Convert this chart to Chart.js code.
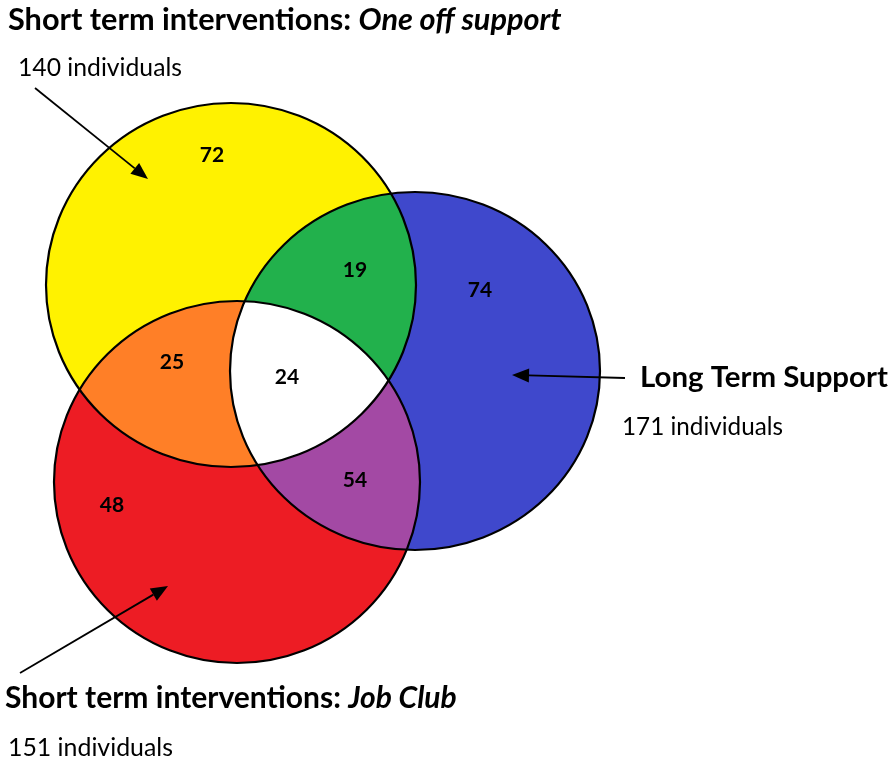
<!DOCTYPE html>
<html>
<head>
<meta charset="utf-8">
<script src="https://cdn.jsdelivr.net/npm/chart.js@4"></script>
<style>
  html, body { margin: 0; padding: 0; background: #fff; }
  #wrap { width: 892px; height: 762px; position: relative; }
</style>
</head>
<body>
<div id="wrap"><canvas id="venn"></canvas></div>
<script>
// values
const setNames = ['Short term interventions: ', 'Long Term Support', 'Short term interventions: ']
const setNamesItalic = ['One off support', '', 'Job Club']
const setTotals = [140, 171, 151]
const regionNames = ['One off only', 'One off + Long term', 'Long term only', 'One off + Job Club', 'All three', 'Long term + Job Club', 'Job Club only']
const regionCounts = [72, 19, 74, 25, 24, 54, 48]

// layout (chart units, y grows downward)
const circleX = [231, 415, 237]
const circleY = [285, 371, 482]
const circleRX = [185, 185, 183]
const circleRY = [182, 179, 181]
const circleColors = ['#FFF200', '#3F48CC', '#ED1C24']
const regionX = [212, 355, 480, 172, 287, 355, 112]
const regionY = [155, 270, 290, 362, 377, 480, 505]
const titleX = [8, 640, 5]
const titleY = [30, 387, 708]
const titleW = [554, 248, 452]
const totalX = [18, 622, 8]
const totalY = [76, 435, 756]
const totalW = [164, 161, 165]
const arrowFrom = [[35, 88], [625, 378], [20, 673]]
const arrowTo = [[148, 179], [512, 375], [168, 586]]

const FONT = 'Lato, "Open Sans", sans-serif'

function ellipsePath(ctx, xs, ys, i) {
    const cx = xs.getPixelForValue(circleX[i])
    const cy = ys.getPixelForValue(circleY[i])
    const rx = Math.abs(xs.getPixelForValue(circleX[i] + circleRX[i]) - cx)
    const ry = Math.abs(ys.getPixelForValue(circleY[i] + circleRY[i]) - cy)
    ctx.beginPath()
    ctx.ellipse(cx, cy, rx, ry, 0, 0, Math.PI * 2)
}

function fillClipped(ctx, xs, ys, clips, fillIdx, color) {
    ctx.save()
    clips.forEach(c => { ellipsePath(ctx, xs, ys, c); ctx.clip() })
    ellipsePath(ctx, xs, ys, fillIdx)
    ctx.fillStyle = color
    ctx.fill()
    ctx.restore()
}

// draw text fitted to a width, optionally with an italic tail
function fittedText(ctx, x, y, width, normal, italic, weight) {
    ctx.font = `${weight} 100px ${FONT}`
    let w = ctx.measureText(normal).width
    ctx.font = `italic ${weight} 100px ${FONT}`
    w += italic ? ctx.measureText(italic).width : 0
    const size = 100 * width / w
    ctx.textAlign = 'left'
    ctx.textBaseline = 'alphabetic'
    ctx.fillStyle = '#000'
    ctx.font = `${weight} ${size}px ${FONT}`
    ctx.fillText(normal, x, y)
    if (italic) {
        const nw = ctx.measureText(normal).width
        ctx.font = `italic ${weight} ${size}px ${FONT}`
        ctx.fillText(italic, x + nw, y)
    }
}

function arrow(ctx, x1, y1, x2, y2) {
    const a = Math.atan2(y2 - y1, x2 - x1)
    const len = 17, half = 7
    const bx = x2 - len * Math.cos(a), by = y2 - len * Math.sin(a)
    ctx.strokeStyle = '#000'
    ctx.lineWidth = 1.8
    ctx.beginPath()
    ctx.moveTo(x1, y1)
    ctx.lineTo(bx, by)
    ctx.stroke()
    ctx.fillStyle = '#000'
    ctx.beginPath()
    ctx.moveTo(x2, y2)
    ctx.lineTo(bx + half * Math.sin(a), by - half * Math.cos(a))
    ctx.lineTo(bx - half * Math.sin(a), by + half * Math.cos(a))
    ctx.closePath()
    ctx.fill()
}

const vennPlugin = {
    id: 'venn',
    beforeDatasetsDraw(chart) {
        const ctx = chart.ctx
        const xs = chart.scales.x, ys = chart.scales.y
        ctx.save()
        ctx.fillStyle = '#fff'
        ctx.fillRect(0, 0, chart.width, chart.height)
        // single sets
        for (let i = 0; i < 3; i++) {
            ellipsePath(ctx, xs, ys, i)
            ctx.fillStyle = circleColors[i]
            ctx.fill()
        }
        // overlaps
        fillClipped(ctx, xs, ys, [0], 1, '#22B14C')
        fillClipped(ctx, xs, ys, [0], 2, '#FF7F27')
        fillClipped(ctx, xs, ys, [1], 2, '#A349A4')
        fillClipped(ctx, xs, ys, [0, 1], 2, '#FFFFFF')
        // outlines
        ctx.strokeStyle = '#000'
        ctx.lineWidth = 2.2
        for (let i = 0; i < 3; i++) {
            ellipsePath(ctx, xs, ys, i)
            ctx.stroke()
        }
        ctx.restore()
    },
    afterDatasetsDraw(chart) {
        const ctx = chart.ctx
        const xs = chart.scales.x, ys = chart.scales.y
        ctx.save()
        // region counts
        const meta = chart.getDatasetMeta(0)
        ctx.font = `bold 21px ${FONT}`
        ctx.fillStyle = '#000'
        ctx.textAlign = 'center'
        ctx.textBaseline = 'middle'
        meta.data.forEach((pt, i) => {
            ctx.fillText(String(regionCounts[i]), pt.x, pt.y)
        })
        // arrows
        for (let i = 0; i < 3; i++) {
            arrow(ctx,
                xs.getPixelForValue(arrowFrom[i][0]), ys.getPixelForValue(arrowFrom[i][1]),
                xs.getPixelForValue(arrowTo[i][0]), ys.getPixelForValue(arrowTo[i][1]))
        }
        // set names and totals
        for (let i = 0; i < 3; i++) {
            fittedText(ctx, xs.getPixelForValue(titleX[i]), ys.getPixelForValue(titleY[i]),
                titleW[i], setNames[i], setNamesItalic[i], 'bold')
            fittedText(ctx, xs.getPixelForValue(totalX[i]), ys.getPixelForValue(totalY[i]),
                totalW[i], `${setTotals[i]} individuals`, '', 'normal')
        }
        ctx.restore()
    }
}

const config = {
    type: 'scatter',
    data: {
        labels: regionNames,
        datasets: [{
            label: 'Regions',
            data: regionCounts.map((v, i) => ({ x: regionX[i], y: regionY[i], v: v })),
            pointRadius: 0,
            pointHoverRadius: 0
        }]
    },
    options: {
        responsive: true,
        maintainAspectRatio: false,
        animation: false,
        layout: { padding: 0 },
        scales: {
            x: { type: 'linear', min: 0, max: 892, display: false },
            y: { type: 'linear', min: 0, max: 762, reverse: true, display: false }
        },
        plugins: {
            legend: { display: false },
            tooltip: { enabled: false }
        }
    },
    plugins: [vennPlugin]
}

const vennChart = new Chart(document.getElementById('venn'), config)
</script>
</body>
</html>
